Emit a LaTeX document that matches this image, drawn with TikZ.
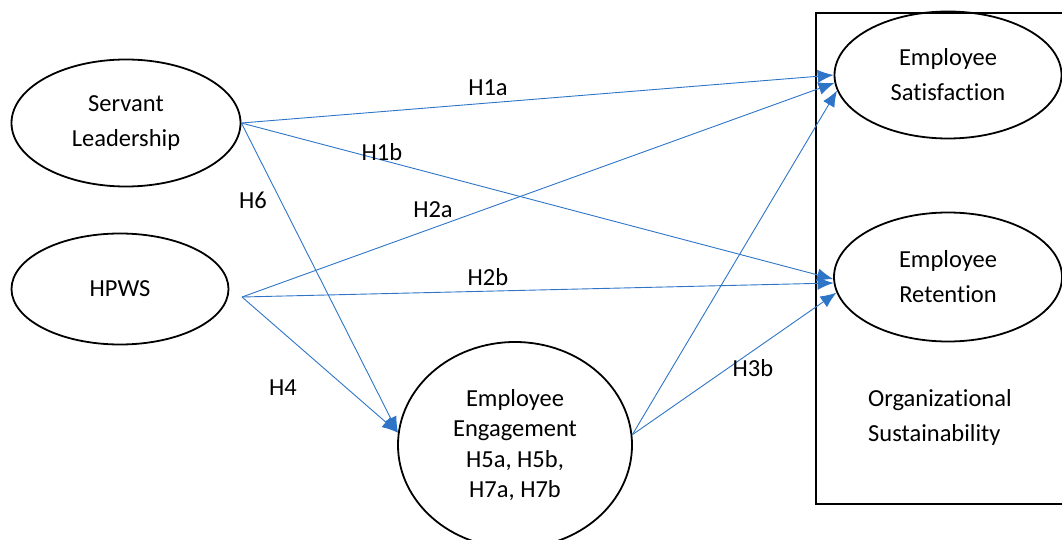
\documentclass[tikz,border=0pt]{standalone}
\usepackage{fontspec}
\setmainfont[Ligatures=NoCommon]{Carlito}
\usetikzlibrary{arrows.meta,shapes.geometric}
\definecolor{pathblue}{RGB}{46,117,200}
\tikzset{
  construct/.style={ellipse,draw=black,line width=1.8pt,inner sep=0pt,align=center},
  hyp/.style={draw=pathblue,line width=0.9pt,-{Latex[length=16pt,width=13pt]}},
  hlabel/.style={inner sep=0pt}
}
\begin{document}
\begin{tikzpicture}[x=1pt,y=-1pt,font=\fontsize{24.5}{35}\selectfont]
\clip (0,0) rectangle (1062,540);
% outcome box
\node[draw,line width=1.8pt,minimum width=262,minimum height=491,anchor=north west,inner sep=0pt](orgbox)at(815,12){};
\node[anchor=west,align=left,inner sep=0pt](orgtext)at(868,417){Organizational\\Sustainability};
% constructs
\node[construct,minimum width=229,minimum height=127](sl)at(126,123){Servant\\Leadership};
\node[construct,minimum width=217,minimum height=111](hpws)at(120,289){HPWS};
\node[construct,minimum width=234,minimum height=206,font=\fontsize{24.5}{30.5}\selectfont](eng)at(515,445){Employee\\Engagement\\H5a, H5b,\\H7a, H7b};
\node[construct,minimum width=227,minimum height=127](sat)at(948,75){Employee\\Satisfaction};
\node[construct,minimum width=228,minimum height=129](ret)at(948,277){Employee\\Retention};
\coordinate(hpout)at(242,297);
% paths
\draw[hyp](sl.east)--(sat.west);
\draw[hyp](sl.east)--(ret.181);
\draw[hyp](sl.east)--(eng.174);
\draw[hyp](hpout)--(sat.184);
\draw[hyp](hpout)--(ret.183);
\draw[hyp](hpout)--(eng.174);
\draw[hyp](eng.5)--(sat.188);
\draw[hyp](eng.5)--(ret.188);
% hypothesis labels
\node[hlabel](h1a)at(488,88){H1a};
\node[hlabel](h1b)at(382,152){H1b};
\node[hlabel](h6)at(253,200){H6};
\node[hlabel](h2a)at(433,210){H2a};
\node[hlabel](h2b)at(488,277){H2b};
\node[hlabel](h4)at(283,388){H4};
\node[hlabel](h3b)at(753,368){H3b};
\end{tikzpicture}
\end{document}
